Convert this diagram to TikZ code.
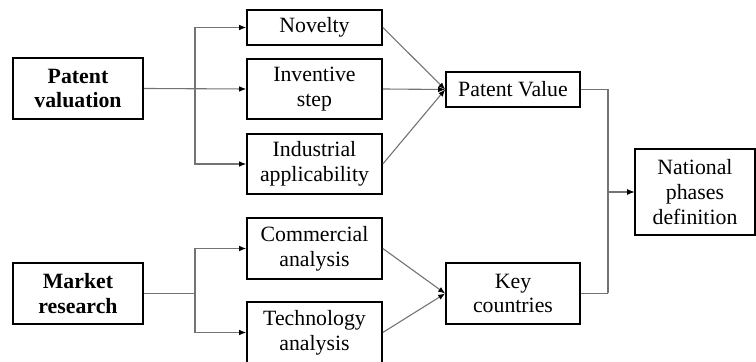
\documentclass[tikz,border=0pt]{standalone}
\usepackage{fontspec}
\setmainfont{Liberation Serif}
\usetikzlibrary{arrows.meta}

\tikzset{
  block/.style = {draw, line width=.8pt, align=center, inner sep=0pt, font=\fontsize{10.9}{12.3}\selectfont},
  link/.style = {draw=black!55, line width=.55pt},
  arrow/.style = {link, -{Latex[black, length=3.5pt, width=2.8pt]}}
}

\begin{document}
\begin{tikzpicture}[x = .5pt, y = -.5pt]
	\useasboundingbox (0,0) rectangle (756,362);
	% inputs
	\node[block, minimum width=65pt, minimum height=30.5pt] (pval) at (78,88.5) {\bfseries Patent\\\bfseries valuation};
	\node[block, minimum width=65pt, minimum height=30.5pt] (mkt) at (78,293.5) {\bfseries Market\\\bfseries research};
	% criteria
	\node[block, minimum width=67.5pt, minimum height=17.5pt] (nov) at (314.5,27.5) {Novelty};
	\node[block, minimum width=67.5pt, minimum height=30pt] (inv) at (314.5,89) {Inventive\\step};
	\node[block, minimum width=67.5pt, minimum height=30pt] (ind) at (314.5,164) {Industrial\\applicability};
	\node[block, minimum width=67.5pt, minimum height=30.5pt] (com) at (314.5,248.5) {Commercial\\analysis};
	\node[block, minimum width=67.5pt, minimum height=30.5pt] (tech) at (314.5,332.5) {Technology\\analysis};
	% results
	\node[block, minimum width=67pt, minimum height=17.5pt] (pvalue) at (513,89.5) {Patent Value};
	\node[block, minimum width=67pt, minimum height=30.5pt] (key) at (513,293.5) {Key\\countries};
	\node[block, minimum width=60pt, minimum height=43pt] (nat) at (695,192) {National\\phases\\definition};

	% branches
	\draw[arrow] (pval.east) -- (inv.west);
	\draw[link] (pval.east) -- (195,88.5) coordinate (pv);
	\draw[arrow] (pv) |- (nov.west);
	\draw[arrow] (pv) |- (ind.west);
	\draw[link] (mkt.east) -- (195,293.5) coordinate (mr);
	\draw[arrow] (mr) |- (com.west);
	\draw[arrow] (mr) |- (tech.west);

	% merging
	\foreach \n in {nov, inv, ind}
		\draw[arrow] (\n.east) -- (pvalue.west);
	\foreach \n in {com, tech}
		\draw[arrow] (\n.east) -- (key.west);
	\draw[link] (pvalue.east) -- (608,89.5) coordinate (pj);
	\draw[link] (key.east) -- (608,293.5) coordinate (kj);
	\draw[arrow] (pj) |- (nat.west);
	\draw[arrow] (kj) |- (nat.west);
\end{tikzpicture}
\end{document}
